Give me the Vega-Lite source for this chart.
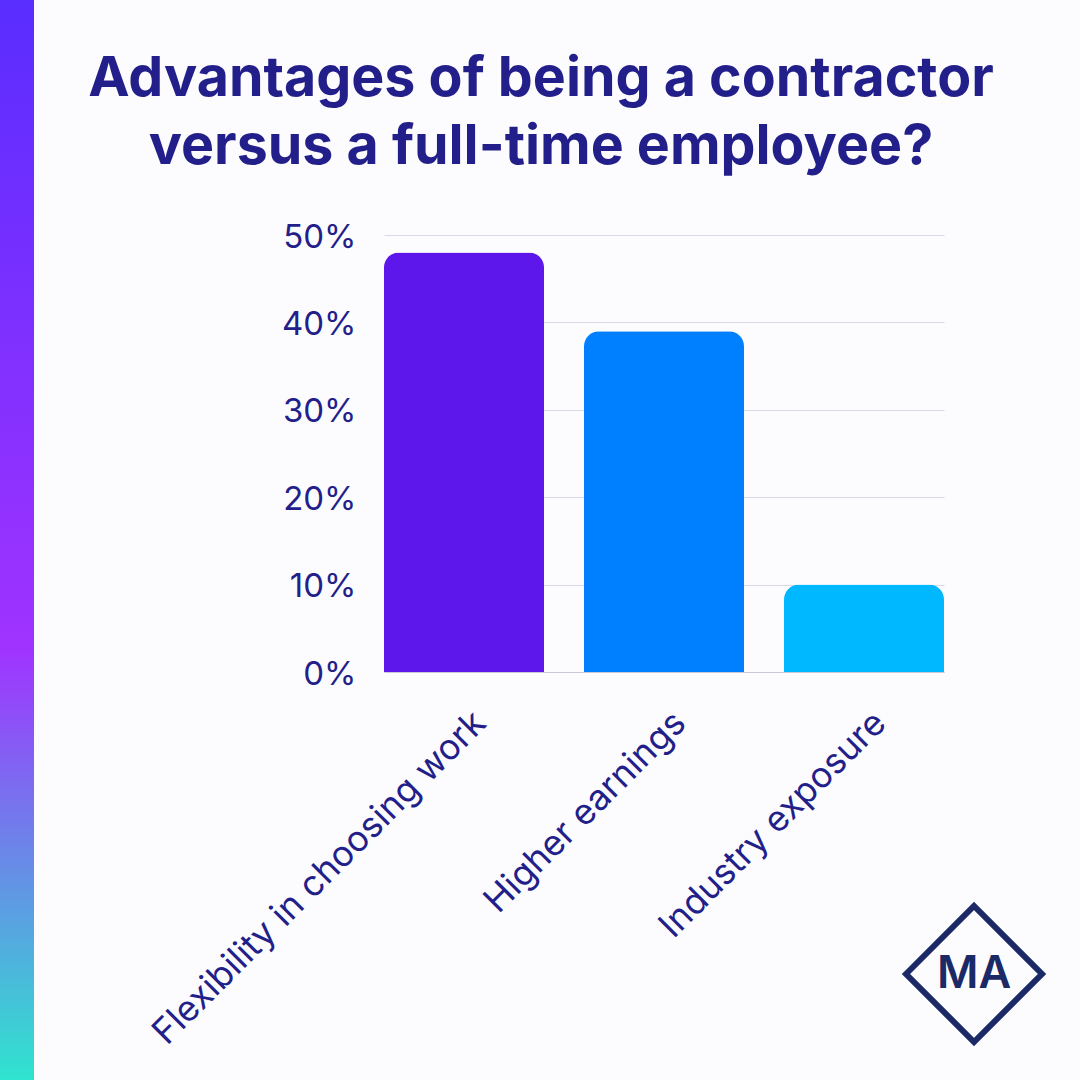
{
  "$schema": "https://vega.github.io/schema/vega-lite/v6.json",
  "padding": 0,
  "background": "#fcfcfe",
  "bounds": "flush",
  "spacing": 350,
  "config": {"view": {"stroke": null}},
  "hconcat": [
    {
      "width": 34,
      "height": 1080,
      "data": {"values": [{"part": "strip"}]},
      "mark": {
        "type": "rect",
        "color": {
          "gradient": "linear",
          "x1": 0, "y1": 0, "x2": 0, "y2": 1,
          "stops": [
            {"offset": 0, "color": "#5a2dff"},
            {"offset": 0.6, "color": "#a033ff"},
            {"offset": 1, "color": "#2fe4cf"}
          ]
        }
      }
    },
    {
      "bounds": "flush",
      "spacing": 520,
      "hconcat": [
        {
          "bounds": "flush",
          "spacing": 0,
          "align": "each",
          "vconcat": [
            {
              "width": 314,
              "height": 235,
              "data": {
                "values": [
                  {"line": "Advantages of being a contractor"},
                  {"line": "versus a full-time employee?"}
                ]
              },
              "mark": {
                "type": "text",
                "font": "Inter",
                "fontWeight": 700,
                "fontSize": 55.5,
                "color": "#231f8a"
              },
              "encoding": {
                "y": {
                  "field": "line",
                  "type": "nominal",
                  "sort": null,
                  "axis": null,
                  "scale": {"type": "point", "range": [79, 147], "padding": 0}
                },
                "text": {"field": "line"}
              }
            },
            {
              "width": 560,
              "height": 437,
              "data": {
                "values": [
                  {"advantage": "Flexibility in choosing work", "share": 48},
                  {"advantage": "Higher earnings", "share": 39},
                  {"advantage": "Industry exposure", "share": 10}
                ]
              },
              "mark": {"type": "bar", "cornerRadiusTopLeft": 15, "cornerRadiusTopRight": 15},
              "encoding": {
                "x": {
                  "field": "advantage",
                  "type": "nominal",
                  "sort": null,
                  "title": null,
                  "scale": {"paddingInner": 0.2, "paddingOuter": 0},
                  "axis": {
                    "labelAngle": -45,
                    "labelAlign": "right",
                    "labelBaseline": "middle",
                    "labelFont": "Inter",
                    "labelFontSize": 35.5,
                    "labelColor": "#231f8a",
                    "labelPadding": 45,
                    "labelOffset": 16,
                    "labelLimit": 700,
                    "ticks": false,
                    "domainColor": "#c9c9d8",
                    "domainWidth": 1
                  }
                },
                "y": {
                  "field": "share",
                  "type": "quantitative",
                  "title": null,
                  "scale": {"domain": [0, 50]},
                  "axis": {
                    "values": [0, 10, 20, 30, 40, 50],
                    "labelExpr": "datum.value + '%'",
                    "labelFont": "Inter",
                    "labelFontSize": 33,
                    "labelColor": "#231f8a",
                    "labelPadding": 28,
                    "labelOffset": 2,
                    "ticks": false,
                    "domain": false,
                    "grid": true,
                    "gridColor": "#d8d8e8",
                    "gridWidth": 1
                  }
                },
                "color": {
                  "field": "advantage",
                  "type": "nominal",
                  "sort": null,
                  "legend": null,
                  "scale": {"range": ["#5e17eb", "#0080ff", "#00b8ff"]}
                }
              }
            }
          ]
        },
        {
          "bounds": "flush",
          "spacing": 0,
          "align": "each",
          "vconcat": [
            {
              "width": 176,
              "height": 904,
              "data": {"values": [{"part": "spacer"}]},
              "mark": {"type": "rect", "opacity": 0}
            },
            {
              "width": 140,
              "height": 140,
              "data": {"values": [{"logo": "MA"}]},
              "layer": [
                {
                  "mark": {"type": "point", "shape": "diamond", "filled": false, "size": 18500, "stroke": "#1b2a66", "strokeWidth": 6, "opacity": 1}
                },
                {
                  "mark": {"type": "text", "font": "Inter", "fontWeight": 600, "fontSize": 45, "color": "#1b2a66"},
                  "encoding": {"text": {"field": "logo"}}
                }
              ]
            }
          ]
        }
      ]
    }
  ]
}
